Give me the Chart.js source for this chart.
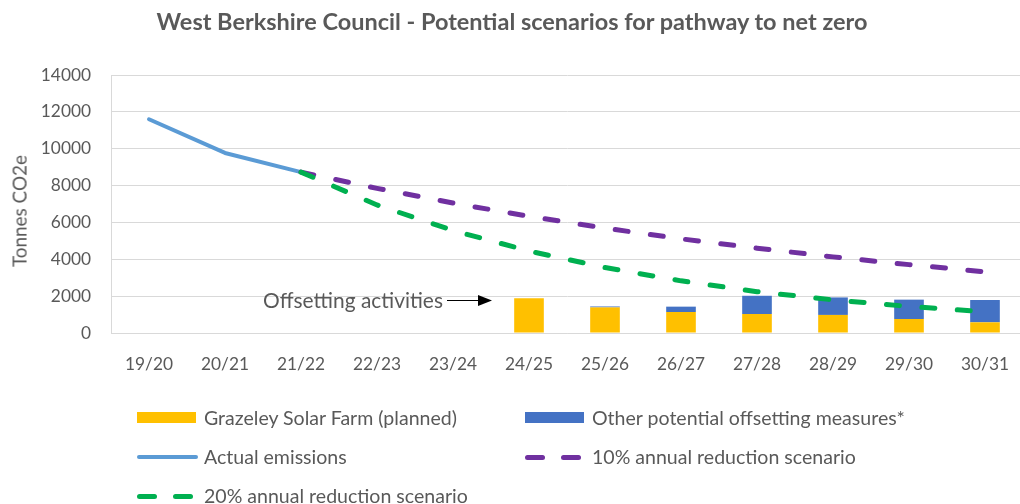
<!DOCTYPE html>
<html><head><meta charset="utf-8">
<script src="https://cdn.jsdelivr.net/npm/chart.js@4.4.0/dist/chart.umd.min.js"></script>
<style>
html,body{margin:0;padding:0;background:#fff;overflow:hidden;}
#wrap{position:relative;width:1020px;height:504px;overflow:hidden;font-family:Lato,sans-serif;color:#595959;background:#fff;}
#cv{position:absolute;left:0;top:0;}
.t{position:absolute;white-space:nowrap;line-height:1;}
.sw{position:absolute;}
</style></head><body>
<div id="wrap">
<canvas id="cv" width="1024" height="504" style="width:1024px;height:504px"></canvas>
<div id="title" class="t" style="font-weight:bold;">West Berkshire Council - Potential scenarios for pathway to net zero</div>
<div id="ytitle" class="t">Tonnes CO2e</div>
<div id="note" class="t">Offsetting activities</div>
<svg id="arrow" width="60" height="20" style="position:absolute;left:440px;top:291px">
  <line x1="7" y1="9.5" x2="40" y2="9.5" stroke="#000" stroke-width="1.2"/>
  <polygon points="38,4 52,9.5 38,15" fill="#000"/>
</svg>
<div id="legend"></div>
</div>
<script>
const categories = ['19/20','20/21','21/22','22/23','23/24','24/25','25/26','26/27','27/28','28/29','29/30','30/31'];
const actualEmissions = [11600, 9770, 8730, null, null, null, null, null, null, null, null, null];
const reduction10 = [null, null, 8730, 7850, 7050, 6330, 5690, 5110, 4600, 4130, 3710, 3320];
const reduction20 = [null, null, 8730, 6950, 5560, 4450, 3550, 2830, 2240, 1800, 1440, 1150];
const solarFarm = [null, null, null, null, null, 1880, 1390, 1140, 1030, 980, 760, 580];
const otherMeasures = [null, null, null, null, null, 0, 50, 290, 990, 950, 1050, 1210];
const yTicks = [0, 2000, 4000, 6000, 8000, 10000, 12000, 14000];
const seriesNames = ['Grazeley Solar Farm (planned)', 'Other potential offsetting measures*', 'Actual emissions', '10% annual reduction scenario', '20% annual reduction scenario'];
const colors = ['#FFC000', '#4472C4', '#5B9BD5', '#7030A0', '#00B050'];

const FONT = 'Lato';
const mctx = document.createElement('canvas').getContext('2d');
function fit(text, weight, target){ mctx.font = weight + ' 100px ' + FONT; return 100 * target / mctx.measureText(text).width; }

function place(el, size, css){ el.style.fontSize = size + 'px'; Object.assign(el.style, css); }
place(document.getElementById('title'), fit(document.getElementById('title').textContent, 'bold', 712), {left:'512px', top:'22px', transform:'translate(-50%,-50%)'});
place(document.getElementById('ytitle'), fit('Tonnes CO2e', 'normal', 112), {left:'20px', top:'211px', transform:'translate(-50%,-50%) rotate(-90deg)'});
place(document.getElementById('note'), fit('Offsetting activities', 'normal', 180), {left:'263px', top:'300px', transform:'translateY(-50%)'});

const tickSize = fit('19/20', 'normal', 48);
const dash = [13, 22.5];

new Chart(document.getElementById('cv'), {
  type: 'bar',
  data: {
    labels: categories,
    datasets: [
      {type:'bar', label:seriesNames[0], data:solarFarm, backgroundColor:colors[0], stack:'off', order:5, barPercentage:0.39, categoryPercentage:1},
      {type:'bar', label:seriesNames[1], data:otherMeasures, backgroundColor:colors[1], stack:'off', order:5, barPercentage:0.39, categoryPercentage:1},
      {type:'line', label:seriesNames[2], data:actualEmissions, borderColor:colors[2], borderWidth:4, pointRadius:0, stack:'a', order:3, borderCapStyle:'round', borderJoinStyle:'round', tension:0},
      {type:'line', label:seriesNames[3], data:reduction10, borderColor:colors[3], borderWidth:5, borderDash:dash, borderCapStyle:'round', pointRadius:0, stack:'b', order:2, tension:0},
      {type:'line', label:seriesNames[4], data:reduction20, borderColor:colors[4], borderWidth:5, borderDash:dash, borderCapStyle:'round', pointRadius:0, stack:'c', order:1, tension:0}
    ]
  },
  options: {
    responsive:false, animation:false,
    layout:{padding:{top:75, right:1, left:0, bottom:0}},
    plugins:{legend:{display:false}, tooltip:{enabled:false}, title:{display:false}},
    scales:{
      x:{stacked:true, grid:{display:false}, border:{display:true, color:'#d9d9d9', width:1},
         ticks:{color:'#595959', font:{family:FONT, size:tickSize}, padding:13, maxRotation:0, autoSkip:false},
         afterFit(s){ s.height = 171; }},
      y:{stacked:true, min:0, max:14000,
         afterBuildTicks(s){ s.ticks = yTicks.map(v => ({value:v})); },
         ticks:{color:'#595959', font:{family:FONT, size:tickSize}, padding:20, callback:(v) => String(v)},
         grid:{color:'#d9d9d9', lineWidth:1, drawTicks:false},
         border:{display:true, color:'#d9d9d9', width:1},
         afterFit(s){ s.width = 111; }}
    }
  }
});

// legend
const legend = document.getElementById('legend');
const legSize = fit(seriesNames[0], 'normal', 254);
const cols = [137, 525], rows = [418, 457, 496];
const kinds = ['box','box','line','dash','dash'];
seriesNames.forEach((name, i) => {
  const x = cols[i % 2], y = rows[Math.floor(i / 2)];
  const k = kinds[i];
  if (k === 'box') {
    const s = document.createElement('div'); s.className = 'sw';
    Object.assign(s.style, {left:x+'px', top:(y-6)+'px', width:'59px', height:'11px', background:colors[i]});
    legend.appendChild(s);
  } else if (k === 'line') {
    const s = document.createElement('div'); s.className = 'sw';
    Object.assign(s.style, {left:x+'px', top:(y-2)+'px', width:'61px', height:'4px', background:colors[i], borderRadius:'2px'});
    legend.appendChild(s);
  } else {
    [0, 36].forEach(off => {
      const s = document.createElement('div'); s.className = 'sw';
      Object.assign(s.style, {left:(x+off)+'px', top:(y-2.5)+'px', width:'20px', height:'5px', background:colors[i], borderRadius:'2.5px'});
      legend.appendChild(s);
    });
  }
  const t = document.createElement('div'); t.className = 't'; t.textContent = name;
  Object.assign(t.style, {left:(x+67)+'px', top:y+'px', transform:'translateY(-50%)', fontSize:legSize+'px'});
  legend.appendChild(t);
});
</script>
</body></html>
